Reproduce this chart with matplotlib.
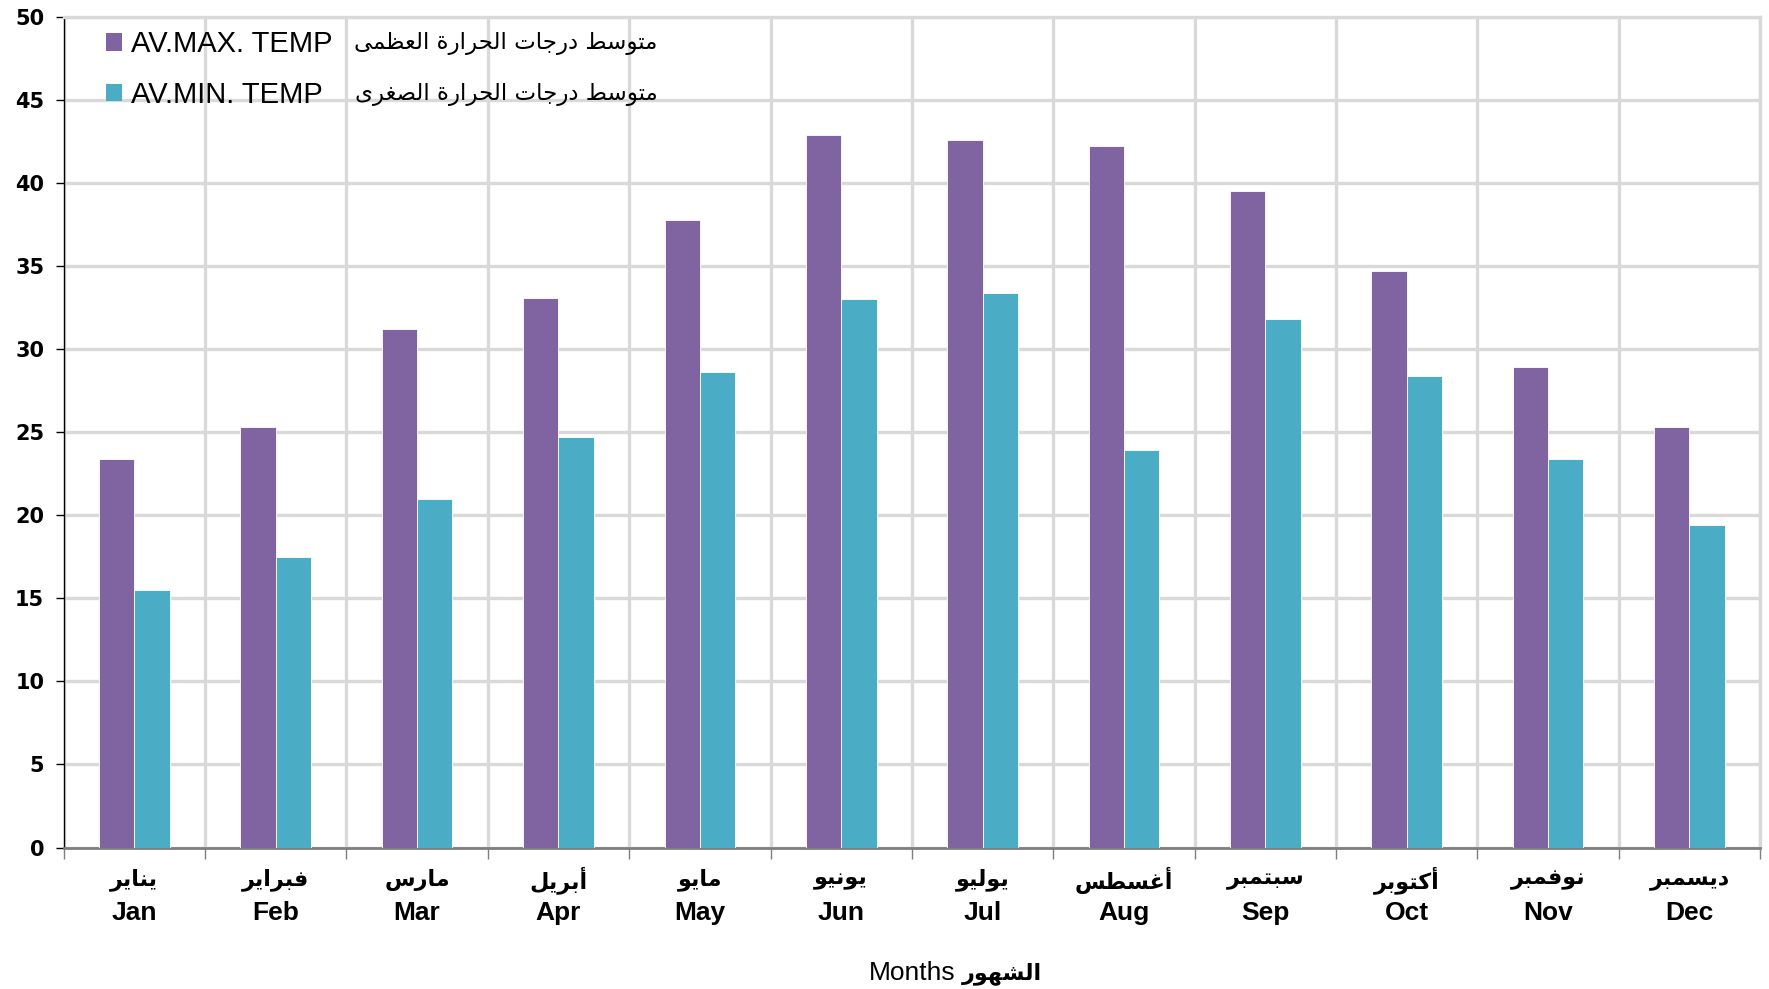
import matplotlib
matplotlib.use("Agg")
import matplotlib.pyplot as plt
from matplotlib.patches import Patch
from matplotlib.font_manager import FontProperties
import numpy as np

months_en = ["Jan", "Feb", "Mar", "Apr", "May", "Jun", "Jul", "Aug", "Sep", "Oct", "Nov", "Dec"]
months_ar = ["يناير", "فبراير", "مارس", "أبريل", "مايو", "يونيو",
             "يوليو", "أغسطس", "سبتمبر", "أكتوبر", "نوفمبر", "ديسمبر"]
max_temp = [23.4, 25.3, 31.2, 33.1, 37.8, 42.9, 42.6, 42.2, 39.5, 34.7, 28.9, 25.3]
min_temp = [15.5, 17.5, 21.0, 24.7, 28.6, 33.0, 33.4, 23.9, 31.8, 28.4, 23.4, 19.4]
label_max = ("AV.MAX. TEMP", "متوسط درجات الحرارة العظمى")
label_min = ("AV.MIN. TEMP", "متوسط درجات الحرارة الصغرى")
xlabel = ("Months", "الشهور")

# matplotlib has no arabic shaping: pick presentation forms by hand, then reverse
FORMS = {}
for ch, base, dual in [
    ("آ", 0xFE81, 0), ("أ", 0xFE83, 0), ("ؤ", 0xFE85, 0), ("إ", 0xFE87, 0),
    ("ئ", 0xFE89, 1), ("ا", 0xFE8D, 0), ("ب", 0xFE8F, 1), ("ة", 0xFE93, 0),
    ("ت", 0xFE95, 1), ("ث", 0xFE99, 1), ("ج", 0xFE9D, 1), ("ح", 0xFEA1, 1),
    ("خ", 0xFEA5, 1), ("د", 0xFEA9, 0), ("ذ", 0xFEAB, 0), ("ر", 0xFEAD, 0),
    ("ز", 0xFEAF, 0), ("س", 0xFEB1, 1), ("ش", 0xFEB5, 1), ("ص", 0xFEB9, 1),
    ("ض", 0xFEBD, 1), ("ط", 0xFEC1, 1), ("ظ", 0xFEC5, 1), ("ع", 0xFEC9, 1),
    ("غ", 0xFECD, 1), ("ف", 0xFED1, 1), ("ق", 0xFED5, 1), ("ك", 0xFED9, 1),
    ("ل", 0xFEDD, 1), ("م", 0xFEE1, 1), ("ن", 0xFEE5, 1), ("ه", 0xFEE9, 1),
    ("و", 0xFEED, 0), ("ى", 0xFEEF, 0), ("ي", 0xFEF1, 1)]:
    FORMS[ch] = (base, dual)
LAMALEF = {"آ": 0xFEF5, "أ": 0xFEF7, "إ": 0xFEF9, "ا": 0xFEFB}


def ar(s):
    out = []
    i = 0
    while i < len(s):
        c = s[i]
        if c not in FORMS:
            out.append(c)
            i += 1
            continue
        base, dual = FORMS[c]
        prev = s[i - 1] if i > 0 else ""
        nxt = s[i + 1] if i + 1 < len(s) else ""
        jp = prev in FORMS and FORMS[prev][1] == 1
        if c == "ل" and nxt in LAMALEF:
            out.append(chr(LAMALEF[nxt] + (1 if jp else 0)))
            i += 2
            continue
        jn = dual == 1 and nxt in FORMS
        k = 3 if (jp and jn) else 1 if jp else 2 if jn else 0
        out.append(chr(base + k))
        i += 1
    return "".join(out)[::-1]


purple = "#8064A2"
cyan = "#4BACC6"
grid_c = "#d9d9d9"

fig = plt.figure(figsize=(17.69, 9.89), dpi=100)
ax = fig.add_axes([0.036, 0.143, 0.959, 0.840])

x = np.arange(len(months_en))
w = 0.25
ax.bar(x - w / 2, max_temp, w, color=purple, edgecolor="white", linewidth=0.6, zorder=3)
ax.bar(x + w / 2, min_temp, w, color=cyan, edgecolor="white", linewidth=0.6, zorder=3)

ax.set_xlim(-0.5, len(months_en) - 0.5)
ax.set_ylim(0, 50)
ax.set_yticks(np.arange(0, 51, 5))
ax.set_xticks(np.arange(-0.5, len(months_en), 1))
ax.set_xticklabels([])
ax.grid(True, color=grid_c, linewidth=2.4, zorder=0)
ax.set_axisbelow(True)

for s in ["top", "right"]:
    ax.spines[s].set_color(grid_c)
    ax.spines[s].set_linewidth(2.4)
ax.spines["left"].set_color("black")
ax.spines["left"].set_linewidth(1.0)
ax.spines["bottom"].set_color("#7f7f7f")
ax.spines["bottom"].set_linewidth(2.0)
ax.tick_params(axis="x", length=8, width=1.0, color="#7f7f7f")
ax.tick_params(axis="y", length=6, width=1.0, color="black", pad=8)
for lab in ax.get_yticklabels():
    lab.set_fontfamily("DejaVu Sans")
    lab.set_fontweight("bold")
    lab.set_fontsize(15)

tr = ax.get_xaxis_transform()
for i in x:
    ax.text(i, -0.039, ar(months_ar[i]), transform=tr, ha="center", va="center",
            fontsize=16, fontweight="bold", family=["DejaVu Sans"])
    ax.text(i, -0.079, months_en[i], transform=tr, ha="center", va="center",
            fontsize=19, fontweight="bold", family=["Liberation Sans", "DejaVu Sans"])

handles = [Patch(facecolor=purple, edgecolor="none"), Patch(facecolor=cyan, edgecolor="none")]
ax.legend(handles, [label_max[0], label_min[0]], loc="upper left",
          bbox_to_anchor=(0.018, 0.998), frameon=False,
          prop=FontProperties(family=["Liberation Sans", "DejaVu Sans"], size=21),
          handlelength=0.55, handleheight=0.55, handletextpad=0.3, labelspacing=0.78,
          borderaxespad=0)
ax.text(0.350, 0.968, ar(label_max[1]), transform=ax.transAxes, ha="right", va="center",
        fontsize=16.5, family=["DejaVu Sans"])
ax.text(0.350, 0.907, ar(label_min[1]), transform=ax.transAxes, ha="right", va="center",
        fontsize=16.5, family=["DejaVu Sans"])

fig.text(0.540, 0.016, xlabel[0], ha="right", va="center", fontsize=19,
         family=["Liberation Sans", "DejaVu Sans"])
fig.text(0.544, 0.016, ar(xlabel[1]), ha="left", va="center", fontsize=16,
         fontweight="bold", family=["DejaVu Sans"])

fig.savefig("out.png", dpi=100)
